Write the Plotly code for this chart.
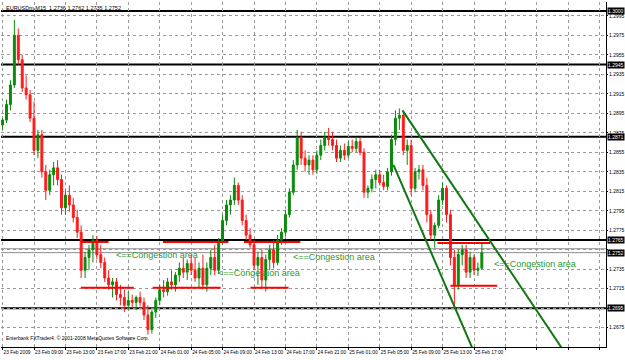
import plotly.graph_objects as go

title_text = "EURUSDm,M15  1.2736 1.2762 1.2735 1.2752"
copyright_text = "Enterbank FXTrader4, \u00a9 2001-2008 MetaQuotes Software Corp."

opens = [1.2883,1.2888,1.2904,1.2924,1.2975,1.2950,1.2921,1.2914,1.2890,1.2857,
         1.2873,1.2835,1.2816,1.2832,1.2839,1.2827,1.2798,1.2811,1.2801,1.2788,
         1.2773,1.2734,1.2747,1.2755,1.2765,1.2750,1.2742,1.2726,1.2719,1.2722,
         1.2709,1.2706,1.2698,1.2703,1.2701,1.2706,1.2701,1.2688,1.2673,1.2691,
         1.2703,1.2714,1.2712,1.2722,1.2719,1.2729,1.2736,1.2732,1.2741,1.2734,
         1.2726,1.2736,1.2719,1.2736,1.2747,1.2734,1.2763,1.2785,1.2801,1.2806,
         1.2821,1.2806,1.2785,1.2770,1.2760,1.2739,1.2747,1.2724,1.2745,1.2755,
         1.2742,1.2765,1.2773,1.2791,1.2814,1.2842,1.2870,1.2849,1.2842,1.2847,
         1.2837,1.2852,1.2862,1.2870,1.2868,1.2862,1.2849,1.2857,1.2852,1.2861,
         1.2859,1.2866,1.2855,1.2814,1.2818,1.2827,1.2832,1.2824,1.2820,1.2835,
         1.2868,1.2890,1.2893,1.2857,1.2862,1.2818,1.2835,1.2837,1.2821,1.2791,
         1.2770,1.2780,1.2806,1.2818,1.2791,1.2747,1.2719,1.2750,1.2755,1.2732,
         1.2747,1.2734,1.2736]
highs = [1.2890,1.2909,1.2929,1.2991,1.2982,1.2955,1.2934,1.2919,1.2907,1.2878,
         1.2878,1.2842,1.2837,1.2845,1.2847,1.2832,1.2816,1.2821,1.2808,1.2796,
         1.2780,1.2753,1.2760,1.2770,1.2769,1.2760,1.2747,1.2734,1.2726,1.2726,
         1.2719,1.2714,1.2712,1.2709,1.2708,1.2712,1.2706,1.2698,1.2693,1.2706,
         1.2719,1.2724,1.2726,1.2734,1.2732,1.2742,1.2747,1.2745,1.2750,1.2747,
         1.2742,1.2750,1.2742,1.2755,1.2760,1.2767,1.2791,1.2806,1.2811,1.2829,
         1.2824,1.2811,1.2791,1.2777,1.2765,1.2753,1.2755,1.2750,1.2760,1.2765,
         1.2770,1.2777,1.2796,1.2818,1.2847,1.2878,1.2876,1.2857,1.2852,1.2852,
         1.2857,1.2868,1.2876,1.2880,1.2876,1.2868,1.2862,1.2864,1.2866,1.2868,
         1.2870,1.2870,1.2859,1.2821,1.2832,1.2837,1.2837,1.2832,1.2839,1.2873,
         1.2898,1.2900,1.2896,1.2868,1.2868,1.2839,1.2842,1.2842,1.2829,1.2796,
         1.2783,1.2811,1.2824,1.2821,1.2796,1.2755,1.2755,1.2760,1.2760,1.2753,
         1.2750,1.2742,1.2762]
lows = [1.2878,1.2885,1.2898,1.2921,1.2945,1.2917,1.2909,1.2886,1.2852,1.2849,
        1.2829,1.2806,1.2811,1.2821,1.2821,1.2791,1.2791,1.2794,1.2783,1.2767,
        1.2726,1.2726,1.2734,1.2742,1.2745,1.2736,1.2722,1.2714,1.2706,1.2703,
        1.2698,1.2691,1.2693,1.2695,1.2693,1.2697,1.2683,1.2668,1.2669,1.2685,
        1.2698,1.2706,1.2708,1.2714,1.2712,1.2722,1.2726,1.2724,1.2729,1.2722,
        1.2716,1.2714,1.2712,1.2729,1.2729,1.2730,1.2760,1.2780,1.2791,1.2801,
        1.2801,1.2780,1.2765,1.2757,1.2734,1.2719,1.2716,1.2712,1.2734,1.2736,
        1.2739,1.2760,1.2769,1.2788,1.2811,1.2837,1.2842,1.2835,1.2832,1.2832,
        1.2833,1.2847,1.2857,1.2862,1.2857,1.2845,1.2845,1.2847,1.2849,1.2855,
        1.2855,1.2852,1.2808,1.2808,1.2814,1.2818,1.2821,1.2816,1.2816,1.2831,
        1.2862,1.2878,1.2852,1.2842,1.2811,1.2814,1.2827,1.2816,1.2783,1.2765,
        1.2757,1.2777,1.2801,1.2783,1.2739,1.2697,1.2714,1.2739,1.2726,1.2726,
        1.2729,1.2728,1.2735]
closes = [1.2888,1.2904,1.2924,1.2975,1.2950,1.2921,1.2914,1.2890,1.2857,1.2873,
          1.2835,1.2816,1.2832,1.2839,1.2827,1.2798,1.2811,1.2801,1.2788,1.2773,
          1.2734,1.2747,1.2755,1.2765,1.2750,1.2742,1.2726,1.2719,1.2722,1.2709,
          1.2706,1.2698,1.2703,1.2701,1.2706,1.2701,1.2688,1.2673,1.2691,1.2703,
          1.2714,1.2712,1.2722,1.2719,1.2729,1.2736,1.2732,1.2741,1.2734,1.2726,
          1.2736,1.2719,1.2736,1.2747,1.2734,1.2763,1.2785,1.2801,1.2806,1.2821,
          1.2806,1.2785,1.2770,1.2760,1.2739,1.2747,1.2724,1.2745,1.2755,1.2742,
          1.2765,1.2773,1.2791,1.2814,1.2842,1.2870,1.2849,1.2842,1.2847,1.2837,
          1.2852,1.2862,1.2870,1.2868,1.2862,1.2849,1.2857,1.2852,1.2861,1.2859,
          1.2866,1.2855,1.2814,1.2818,1.2827,1.2832,1.2824,1.2820,1.2835,1.2868,
          1.2890,1.2893,1.2857,1.2862,1.2818,1.2835,1.2837,1.2821,1.2791,1.2770,
          1.2780,1.2806,1.2818,1.2791,1.2747,1.2719,1.2750,1.2755,1.2732,1.2747,
          1.2734,1.2736,1.2752]

time_labels = ["23 Feb 2009", "23 Feb 09:00", "23 Feb 13:00", "23 Feb 17:00", "23 Feb 21:00",
               "24 Feb 01:00", "24 Feb 05:00", "24 Feb 09:00", "24 Feb 13:00", "24 Feb 17:00",
               "24 Feb 21:00", "25 Feb 01:00", "25 Feb 05:00", "25 Feb 09:00", "25 Feb 13:00",
               "25 Feb 17:00", "", "", "", ""]
price_ticks = [1.2655, 1.2675, 1.2695, 1.2715, 1.2735, 1.2755, 1.2775, 1.2795, 1.2815, 1.2835,
               1.2855, 1.2875, 1.2895, 1.2915, 1.2935, 1.2955, 1.2975, 1.2995]
# tick labels hidden under the boxed level labels (as in the reference)
hidden_ticks = [1.2695, 1.2755]

black_levels = [1.3000, 1.2945, 1.2871, 1.2765, 1.2695]
gray_levels = [1.2756, 1.2752]
bid_price = 1.2752

cong_tops = [(19.9, 27.0, 1.2763), (40.8, 57.5, 1.2763), (61.4, 75.8, 1.2763), (110.7, 124.1, 1.2762)]
cong_bottoms = [(19.9, 33.4, 1.2716), (38.2, 55.5, 1.2716), (63.1, 72.8, 1.2716), (114.0, 125.9, 1.2718)]
cong_text = "<==Congestion area"
cong_labels = [(28.3, 1.2750), (54.2, 1.2731), (73.3, 1.2748), (124.6, 1.2740)]

channel_upper = [(101.8, 1.2898), (142.7, 1.2652)]
channel_lower = [(99.5, 1.2842), (119.8, 1.2652)]

n = len(closes)
idx = list(range(n))
bar_step = 8
tick_vals = [k * bar_step for k in range(len(time_labels))]
price_text = ["" if v in hidden_ticks else f"{v:.4f}" for v in price_ticks]

small_font = "Liberation Sans, Arial"

fig = go.Figure()

for lv in black_levels:
    fig.add_shape(type="line", xref="paper", x0=0, x1=1, yref="y", y0=lv, y1=lv,
                  line=dict(color="#000000", width=2), layer="below")
for lv in gray_levels:
    fig.add_shape(type="line", xref="paper", x0=0, x1=1, yref="y", y0=lv, y1=lv,
                  line=dict(color="#8c8c8c", width=1), layer="below")

fig.add_trace(go.Candlestick(
    x=idx, open=opens, high=highs, low=lows, close=closes,
    increasing=dict(line=dict(color="#0a8a0a", width=1), fillcolor="#0a8a0a"),
    decreasing=dict(line=dict(color="#ff1a1a", width=1), fillcolor="#ff1a1a"),
    whiskerwidth=0, showlegend=False, hoverinfo="skip"))

for (a, b, p) in cong_tops + cong_bottoms:
    fig.add_trace(go.Scatter(x=[a, b], y=[p, p], mode="lines",
                             line=dict(color="#ff0000", width=2), showlegend=False, hoverinfo="skip"))

for ch in (channel_upper, channel_lower):
    fig.add_trace(go.Scatter(x=[ch[0][0], ch[1][0]], y=[ch[0][1], ch[1][1]], mode="lines",
                             line=dict(color="#117711", width=2), showlegend=False, hoverinfo="skip"))

for (xa, ya) in cong_labels:
    fig.add_annotation(x=xa, y=ya, text=cong_text, showarrow=False, xanchor="left", yanchor="middle",
                       font=dict(family=small_font, size=9, color="#2a9a2a"))

for lv in black_levels + [bid_price]:
    fig.add_annotation(xref="paper", x=1, y=lv, text=f"{lv:.4f}", showarrow=False,
                       xanchor="left", yanchor="middle", xshift=1,
                       bgcolor="#000000", borderpad=0,
                       font=dict(family=small_font, size=5, color="#ffffff"))

fig.add_annotation(xref="paper", yref="paper", x=0, y=1, text=title_text, showarrow=False,
                   xanchor="left", yanchor="top", xshift=3, yshift=-1,
                   font=dict(family=small_font, size=5.5, color="#000000"))
fig.add_annotation(xref="paper", yref="paper", x=0, y=0, text=copyright_text, showarrow=False,
                   xanchor="left", yanchor="bottom", xshift=3, yshift=4,
                   font=dict(family=small_font, size=5, color="#000000"))

fig.update_layout(
    width=625, height=360,
    margin=dict(l=1, r=19, t=2, b=13, autoexpand=False),
    paper_bgcolor="#ffffff", plot_bgcolor="#ffffff",
    showlegend=False,
    xaxis=dict(range=[-0.4, 153.6], rangeslider=dict(visible=False),
               tickmode="array", tickvals=tick_vals, ticktext=time_labels, tickangle=0,
               automargin=False,
               showgrid=True, gridcolor="#9a9a9a", griddash="dot", gridwidth=1,
               ticklabelposition="outside right", ticks="outside", ticklen=2, tickcolor="#000",
               tickfont=dict(family=small_font, size=4.8, color="#000000"),
               showline=True, linecolor="#000000", linewidth=1, zeroline=False, fixedrange=True),
    yaxis=dict(range=[1.26552, 1.30092], side="right", automargin=False,
               tickmode="array", tickvals=price_ticks, ticktext=price_text,
               showgrid=True, gridcolor="#9a9a9a", griddash="dot", gridwidth=1,
               ticks="outside", ticklen=1, tickcolor="#000",
               tickfont=dict(family=small_font, size=5, color="#000000"),
               showline=True, linecolor="#000000", linewidth=1, zeroline=False, fixedrange=True),
)

fig.write_html("out.html")
